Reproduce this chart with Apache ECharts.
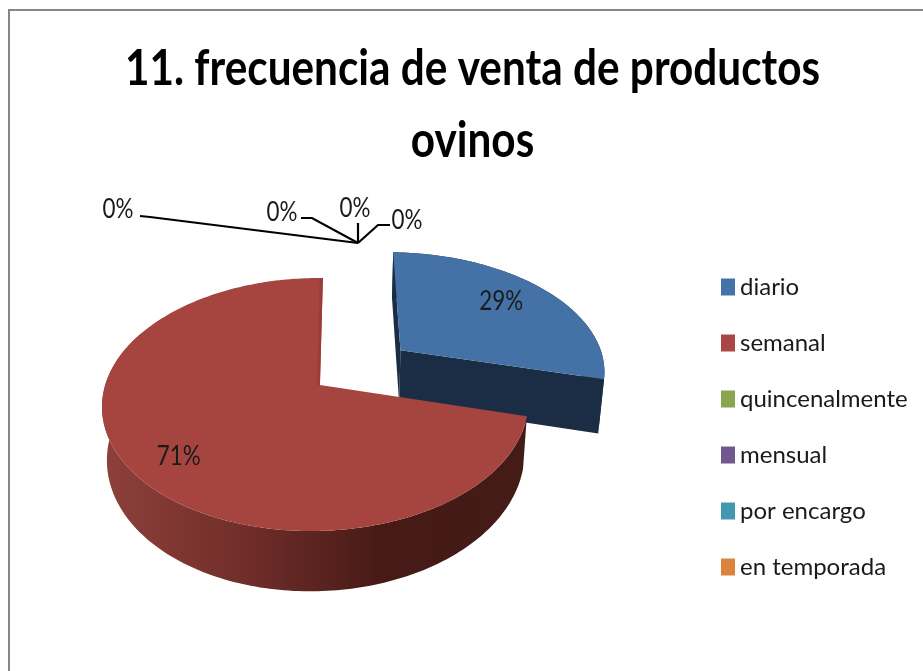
<!DOCTYPE html>
<html><head><meta charset="utf-8">
<style>html,body{margin:0;padding:0;background:#fff}#c{width:923px;height:671px}</style>
<script src="https://cdn.jsdelivr.net/npm/echarts@6/dist/echarts.min.js"></script>
</head><body><div id="c"></div>
<script>
const titleText = '11. frecuencia de venta de productos\novinos';
const categories = ['diario','semanal','quincenalmente','mensual','por encargo','en temporada'];
const values = [29,71,0,0,0,0];
const colors = ['#4572A7','#AA4643','#89A54E','#71588F','#4198AF','#DB843D'];

// Projection of the tilted pie (layout only)
const P = {vx:342,y0:385,ax:210,ay:123.5,k:0.154,m:0.02,u0:-0.105,depth:51,shrink:0.0004};
const explode = {0:0.485};
const sliceAdj = {0:{sx:1.03,dx:3,dz:1.1},1:{sx:1,dx:0,dz:1}};
const labelPos = {0:[0.7,0.78],1:[0.76,0.85]};
const total = values.reduce((a,b)=>a+b,0);
const FONT = 'Lato';
function baseProj(u,v,z){
  const w = 1+P.k*v+P.m*u;
  const s = 1-(z||0)*P.shrink;
  return [P.vx+P.ax*(u+P.u0)/w*s, P.y0+(-P.ay*v+(z||0))/w];
}
function arcPts(proj,a0,a1,ox,oy,z){
  const n=Math.max(2,Math.ceil((a1-a0)/0.02)),pts=[];
  for(let i=0;i<=n;i++){const a=a0+(a1-a0)*i/n;pts.push(proj(ox+Math.sin(a),oy+Math.cos(a),z));}
  return pts;
}
const zeroLabels = {
  2:{pts:[[-208,-26],[-218,-27]],lx:-240,ly:-34},
  3:{pts:[[-46,-25],[-57,-25]],lx:-76,ly:-31},
  4:{pts:[[0,-20]],lx:-3,ly:-35},
  5:{pts:[[20,-18],[32,-18]],lx:49,ly:-23}
};
function labelEl(text,x,y){
  return {type:'text',x,y,scaleX:0.83,scaleY:1,style:{text,x:0,y:0,align:'center',verticalAlign:'middle',fill:'#1a1a1a',font:'27px '+FONT}};
}
function makeRender(idx){
  return function(params,api){
    const val = api.value(0);
    const children=[];
    const before = values.slice(0,idx).reduce((a,b)=>a+b,0);
    const a0 = before/total*Math.PI*2, a1=(before+val)/total*Math.PI*2;
    const mid=(a0+a1)/2, e=explode[idx]||0;
    const ox=Math.sin(mid)*e, oy=Math.cos(mid)*e;
    const pct=Math.round(val/total*100)+'%';
    if(val>0){
      const adj=sliceAdj[idx];
      const apexX=baseProj(ox,oy,0)[0];
      const proj=(u,v,z)=>{const p=baseProj(u,v,(z||0)*adj.dz);return [apexX+(p[0]-apexX)*adj.sx+adj.dx,p[1]];};
      const top=[proj(ox,oy,0)].concat(arcPts(proj,a0,a1,ox,oy,0));
      const outerTop=arcPts(proj,a0,a1,ox,oy,0);
      if(idx===0){
        const outerBot=arcPts(proj,a0,a1,ox,oy,P.depth);
        const wall=outerTop.concat(outerBot.slice().reverse());
        const navy='#1B2D44';
        const c0=proj(ox,oy,0),c1=proj(ox,oy,P.depth);
        children.push({type:'polygon',shape:{points:wall},style:{fill:navy}});
        children.push({type:'polygon',shape:{points:[c0,outerTop[0],outerBot[0],c1]},style:{fill:navy}});
        children.push({type:'polygon',shape:{points:[c0,outerTop[outerTop.length-1],outerBot[outerBot.length-1],c1]},style:{fill:navy}});
      } else {
        // only the front of the rim can be seen
        const rimEnd=a0+(a1-a0)*0.75;
        const rimTop=arcPts(proj,a0,rimEnd,ox,oy,0), rimBot=arcPts(proj,a0,rimEnd,ox,oy,P.depth);
        const grad=new echarts.graphic.LinearGradient(102,0,527,0,[
          {offset:0,color:'#8F403B'},{offset:0.35,color:'#6F2D29'},{offset:0.66,color:'#471A16'},{offset:1,color:'#431B17'}],true);
        children.push({type:'polygon',shape:{points:rimTop.concat(rimBot.slice().reverse())},style:{fill:grad}});
      }
      children.push({type:'polygon',shape:{points:top},style:{fill:idx===0?'#4471A6':'#A6443F'}});
      if(idx===1){
        const c0=proj(ox,oy,0),c1=proj(ox,oy+1,0);
        children.push({type:'polygon',shape:{points:[c0,c1,[c1[0]-3,c1[1]],[c0[0]-3,c0[1]]]},style:{fill:'#983D39'}});
      }
      const f=labelPos[idx];
      const lp=proj(ox+Math.sin(mid)*f[0],oy+Math.cos(mid)*f[1],0);
      children.push(labelEl(pct,lp[0],lp[1]));
    } else {
      const z=zeroLabels[idx];
      const hx=358,hy=243;
      const line=[[hx,hy]].concat(z.pts.map(p=>[hx+p[0],hy+p[1]]));
      children.push({type:'polyline',shape:{points:line},style:{stroke:'#000',lineWidth:2.2,fill:null}});
      children.push(labelEl(pct,hx+z.lx,hy+z.ly));
    }
    return {type:'group',children};
  };
}
const chart=echarts.init(document.getElementById('c'),null,{renderer:'canvas'});
chart.setOption({
  animation:false,
  backgroundColor:'#fff',
  legend:{orient:'vertical',left:716,top:270,itemWidth:14,itemHeight:17,itemGap:32,icon:'rect',
    data:categories,
    textStyle:{fontFamily:FONT,fontSize:24,lineHeight:17,height:17,color:'#1a1a1a'}},
  graphic:[
    {type:'polyline',silent:true,shape:{points:[[9,671],[9,10],[923,10]]},style:{stroke:'#868686',lineWidth:2,fill:null}},
    {type:'text',silent:true,x:472.5,y:105,scaleX:0.846,scaleY:1,
     style:{text:titleText,x:0,y:0,align:'center',verticalAlign:'middle',fill:'#000',font:'bold 50px '+FONT,lineHeight:72}}
  ],
  series:categories.map((name,i)=>({
    type:'custom',name,coordinateSystem:'none',silent:true,
    itemStyle:{color:colors[i]},
    renderItem:makeRender(i),
    data:[[values[i]]]
  }))
});
</script></body></html>
